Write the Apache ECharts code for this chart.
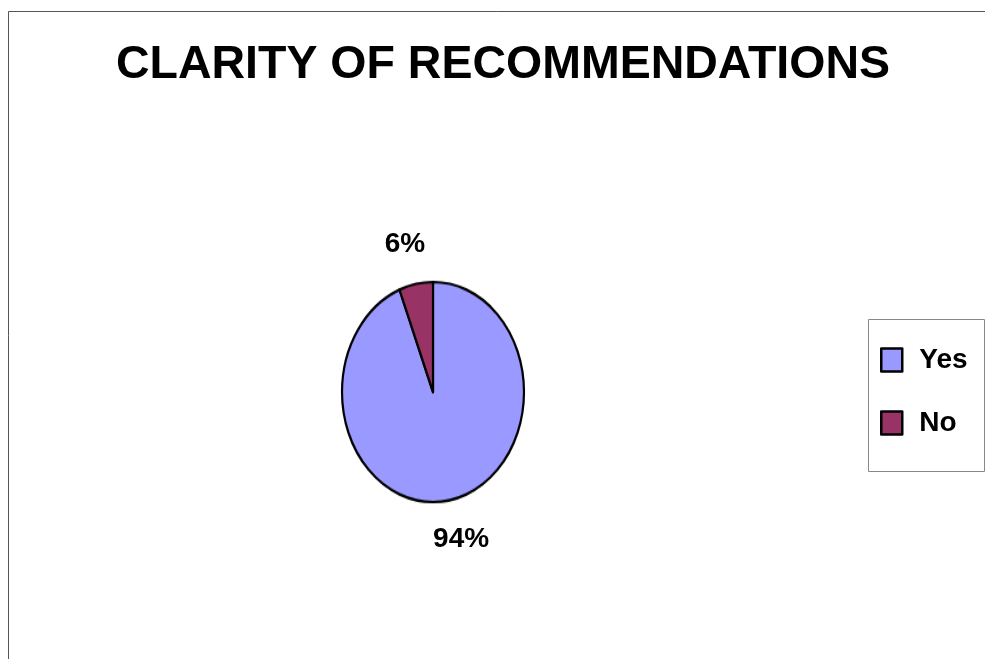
<!DOCTYPE html>
<html><head><meta charset="utf-8">
<script src="https://cdn.jsdelivr.net/npm/echarts@6/dist/echarts.min.js"></script>
<style>
html,body{margin:0;padding:0;background:#fff;}
#wrap{position:relative;width:985px;height:659px;overflow:hidden;}
#main,#pie{position:absolute;left:0;top:0;width:985px;height:659px;}
#pie{transform-origin:433px 392px;transform:scaleY(1.209);pointer-events:none;}
</style></head><body>
<div id="wrap"><div id="main"></div><div id="pie"></div></div>
<script>
const titleText = 'CLARITY OF RECOMMENDATIONS';
const categories = ['Yes', 'No'];
const values = [94, 6];
const sliceColors = ['#9999FF', '#993366'];

const FONT = 'Arial, "Liberation Sans", Helvetica, sans-serif';
const center = [433, 392];
const pieData = categories.map((c, i) => ({ name: c, value: values[i], itemStyle: { color: sliceColors[i] } }));

const main = echarts.init(document.getElementById('main'), null, { renderer: 'canvas' });
main.setOption({
  animation: false,
  backgroundColor: '#fff',
  title: {
    text: titleText, left: 498, top: 37, textAlign: 'center',
    textStyle: { fontFamily: FONT, fontWeight: 'bold', fontSize: 46.5, color: '#000' }
  },
  graphic: [
    { type: 'rect', silent: true, shape: { x: 8.5, y: 11.5, width: 1000, height: 700 },
      style: { fill: 'none', stroke: '#555', lineWidth: 1 } },
    { type: 'rect', silent: true, shape: { x: 868.5, y: 319.5, width: 116, height: 152 },
      style: { fill: '#fff', stroke: '#888', lineWidth: 1 } }
  ],
  legend: {
    orient: 'vertical', left: 880, top: 346, padding: 0,
    itemWidth: 21, itemHeight: 23, itemGap: 35,
    icon: 'rect',
    selectedMode: false,
    data: categories.map((c, i) => ({ name: c, itemStyle: { color: sliceColors[i], opacity: 1, borderColor: '#000', borderWidth: 2.5 } })),
    textStyle: { fontFamily: FONT, fontWeight: 'bold', fontSize: 28, color: '#000', lineHeight: 26, padding: [0, 0, 0, 12] }
  },
  series: [{
    type: 'pie', silent: true, center: center, radius: [0, 294],
    startAngle: 90, clockwise: true,
    itemStyle: { opacity: 0 },
    emphasis: { disabled: true },
    label: { show: true, position: 'inside', formatter: '{d}%', fontFamily: FONT, fontWeight: 'bold', fontSize: 28, color: '#000', opacity: 1 },
    labelLine: { show: false },
    data: pieData
  }]
});

const pie = echarts.init(document.getElementById('pie'), null, { renderer: 'canvas' });
pie.setOption({
  animation: false,
  series: [{
    type: 'pie', silent: true, center: center, radius: 91,
    startAngle: 90, clockwise: true,
    itemStyle: { borderColor: '#000', borderWidth: 2.2 },
    emphasis: { disabled: true },
    label: { show: false },
    labelLine: { show: false },
    data: pieData
  }]
});
</script>
</body></html>
